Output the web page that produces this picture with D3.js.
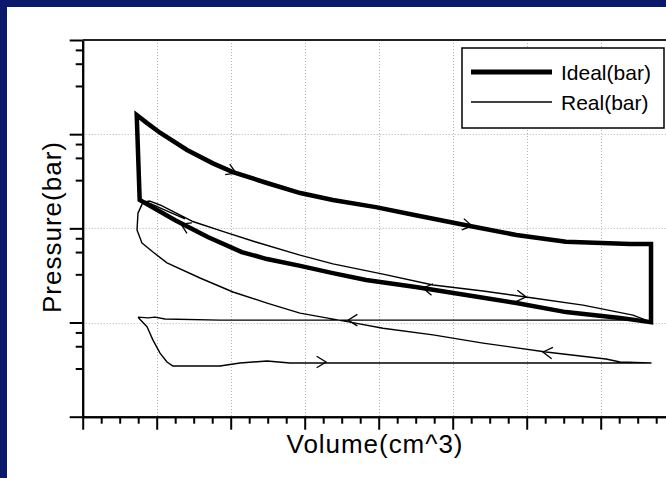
<!DOCTYPE html>
<html>
<head>
<meta charset="utf-8">
<script src="https://cdn.jsdelivr.net/npm/d3@7"></script>
<style>
  body { margin: 0; background: #fff; }
  svg { display: block; font-family: "Liberation Sans", Arial, sans-serif; }
</style>
</head>
<body>
<svg id="chart"></svg>
<script>
// ideal cycle (closed loop), volume in cm^3, pressure in bar
const idealV = [73, 87, 105, 141, 176, 203, 249, 294, 338, 396, 450, 518, 586, 653, 740, 768,
                768, 726, 653, 586, 518, 450, 383, 338, 294, 249, 215, 169, 125, 77];
const idealP = [160, 131, 103, 68, 49, 39.6, 30.3, 23.7, 20.0, 16.8, 13.8, 10.8, 8.5, 7.2, 6.8, 6.8,
                1.01, 1.12, 1.29, 1.61, 1.96, 2.38, 2.83, 3.35, 4.0, 4.72, 5.6, 8.1, 12.2, 20.0];

// real cycle: intake, compression, expansion, exhaust (null = break)
const realV = [74.7, 86.9, 95, 104.5, 113.9, 122, 185.5, 212.6, 249.1, 280.1, 338.2, 768,
               726.1, 707.2, 626.1, 541, 473.4, 405.8, 361.2, 293.6, 249.1, 203.1, 158.5, 113.9, 95, 80.1, 73.4, 74.7, 81.5,
               90.9, 104.5, 147.7, 192.3, 232.8, 293.6, 338.2, 405.8, 473.4, 541, 608.5, 676.1, 743.6, 761.2,
               699.1, 428.8, 185.5, 111.2, 97.7, 88.2, 74.7,
               null,
               84.2, 111.2, 138.2];
const realP = [1.14, 0.90, 0.65, 0.474, 0.381, 0.345, 0.345, 0.372, 0.39, 0.372, 0.372, 0.372,
               0.381, 0.41, 0.486, 0.605, 0.74, 0.87, 1.01, 1.26, 1.61, 2.11, 2.97, 4.3, 5.6, 7.0, 9.6, 14.5, 19.0,
               19.5, 17.7, 11.9, 9.1, 7.2, 5.2, 4.2, 3.27, 2.5, 2.16, 1.82, 1.53, 1.2, 1.06,
               1.06, 1.06, 1.06, 1.09, 1.14, 1.12, 1.14,
               null,
               19.5, 15.6, 12.6];

// direction arrows: tip and a point behind it on the curve
const arrowTipV = [207.2, 526.1, 459.9, 599.1, 358.5, 622.0, 328.8, 132.8];
const arrowTipP = [38.6, 10.6, 2.32, 1.87, 1.06, 0.486, 0.381, 11.1];
const arrowTailV = [176.1, 496.4, 496.4, 563.9, 388.2, 658.5, 293.6, 158.5];
const arrowTailP = [49.3, 11.7, 2.11, 2.01, 1.06, 0.452, 0.381, 8.9];

const xMajor = [0, 100, 200, 300, 400, 500, 600, 700, 800];
const xMinorStep = 25;
const yMajor = [0.1, 1, 10, 100, 1000];
const yMinorMult = [3.25, 5.6, 7.85];

const legendLabels = ["Ideal(bar)", "Real(bar)"];

const W = 666, H = 478;
const svg = d3.select("#chart").attr("width", W).attr("height", H);

svg.append("rect").attr("width", W).attr("height", H).attr("fill", "#fff");
svg.append("rect").attr("width", W).attr("height", 7).attr("fill", "#0b196c");
svg.append("rect").attr("width", 7).attr("height", H).attr("fill", "#0b196c");

const x = d3.scaleLinear().domain([0, 800]).range([82.7, 674.7]);
const y = d3.scaleLog().domain([0.1, 1000]).range([416.7, 40]);

const xMinor = d3.range(0, 801, xMinorStep).filter(v => !xMajor.includes(v));
const yMinor = yMajor.slice(0, -1).flatMap(d => yMinorMult.map(m => d * m));

// grid
const grid = svg.append("g").attr("stroke", "#b4b4b4").attr("stroke-width", 1)
  .attr("stroke-dasharray", "1,2");
grid.selectAll(".vx").data(xMajor.slice(1)).join("line")
  .attr("x1", d => Math.round(x(d)) + 0.5).attr("x2", d => Math.round(x(d)) + 0.5)
  .attr("y1", y(1000)).attr("y2", y(0.1));
grid.selectAll(".hy").data(yMajor.slice(1, -1)).join("line")
  .attr("y1", d => Math.round(y(d)) + 0.5).attr("y2", d => Math.round(y(d)) + 0.5)
  .attr("x1", x(0)).attr("x2", W);

// axes
function styleAxis(g) {
  g.selectAll("text").remove();
  g.selectAll("line").attr("stroke", "#000").attr("stroke-width", 2);
  g.select(".domain").attr("stroke", "#000").attr("stroke-width", 2);
}
svg.append("g").attr("transform", `translate(0,${y(0.1)})`)
  .call(d3.axisBottom(x).tickValues(xMajor).tickSize(13).tickSizeOuter(0))
  .call(styleAxis);
svg.append("g").attr("transform", `translate(0,${y(0.1)})`)
  .call(d3.axisBottom(x).tickValues(xMinor).tickSize(7).tickSizeOuter(0))
  .call(styleAxis);
svg.append("g").attr("transform", `translate(${x(0)},0)`)
  .call(d3.axisLeft(y).tickValues(yMajor).tickSize(13).tickSizeOuter(0))
  .call(styleAxis);
svg.append("g").attr("transform", `translate(${x(0)},0)`)
  .call(d3.axisLeft(y).tickValues(yMinor).tickSize(7).tickSizeOuter(0))
  .call(styleAxis);
// top frame
svg.append("line").attr("x1", x(0)).attr("x2", W).attr("y1", y(1000)).attr("y2", y(1000))
  .attr("stroke", "#222").attr("stroke-width", 2);

// curves
const ideal = idealV.map((v, i) => ({ v, p: idealP[i] }));
const real = realV.map((v, i) => ({ v, p: realP[i] }));

svg.append("path").datum(ideal)
  .attr("d", d3.line().x(d => x(d.v)).y(d => y(d.p)).curve(d3.curveLinearClosed))
  .attr("fill", "none").attr("stroke", "#000").attr("stroke-width", 4.5)
  .attr("stroke-linejoin", "miter");

svg.append("path").datum(real)
  .attr("d", d3.line().defined(d => d.v != null).x(d => x(d.v)).y(d => y(d.p)))
  .attr("fill", "none").attr("stroke", "#000").attr("stroke-width", 1.4)
  .attr("stroke-linejoin", "round");

// arrows
const arrows = arrowTipV.map((v, i) => ({
  tx: x(v), ty: y(arrowTipP[i]), bx: x(arrowTailV[i]), by: y(arrowTailP[i])
}));
svg.append("g").selectAll("path").data(arrows).join("path")
  .attr("d", a => {
    const ang = Math.atan2(a.ty - a.by, a.tx - a.bx);
    const len = 11, spread = 0.55;
    const p1 = [a.tx - len * Math.cos(ang - spread), a.ty - len * Math.sin(ang - spread)];
    const p2 = [a.tx - len * Math.cos(ang + spread), a.ty - len * Math.sin(ang + spread)];
    return `M${p1}L${a.tx},${a.ty}L${p2}`;
  })
  .attr("fill", "none").attr("stroke", "#000").attr("stroke-width", 1.3);

// legend
const lg = svg.append("g");
lg.append("rect").attr("x", 462).attr("y", 48).attr("width", 202).attr("height", 80)
  .attr("fill", "#fff").attr("stroke", "#000").attr("stroke-width", 1.5);
lg.selectAll("line").data(legendLabels).join("line")
  .attr("x1", 471).attr("x2", 552)
  .attr("y1", (d, i) => 72 + i * 30).attr("y2", (d, i) => 72 + i * 30)
  .attr("stroke", "#000").attr("stroke-width", (d, i) => i === 0 ? 5 : 1.4);
lg.selectAll("text").data(legendLabels).join("text")
  .attr("x", 561).attr("y", (d, i) => 79.5 + i * 30)
  .attr("font-size", 21).attr("fill", "#000")
  .text(d => d);

// axis titles
svg.append("text").attr("x", 374.5).attr("y", 453).attr("text-anchor", "middle")
  .attr("font-size", 26).attr("textLength", 176).attr("lengthAdjust", "spacing")
  .text("Volume(cm^3)");
svg.append("text").attr("transform", "translate(61,227.5) rotate(-90)")
  .attr("text-anchor", "middle").attr("font-size", 26)
  .attr("textLength", 171).attr("lengthAdjust", "spacing")
  .text("Pressure(bar)");
</script>
</body>
</html>
